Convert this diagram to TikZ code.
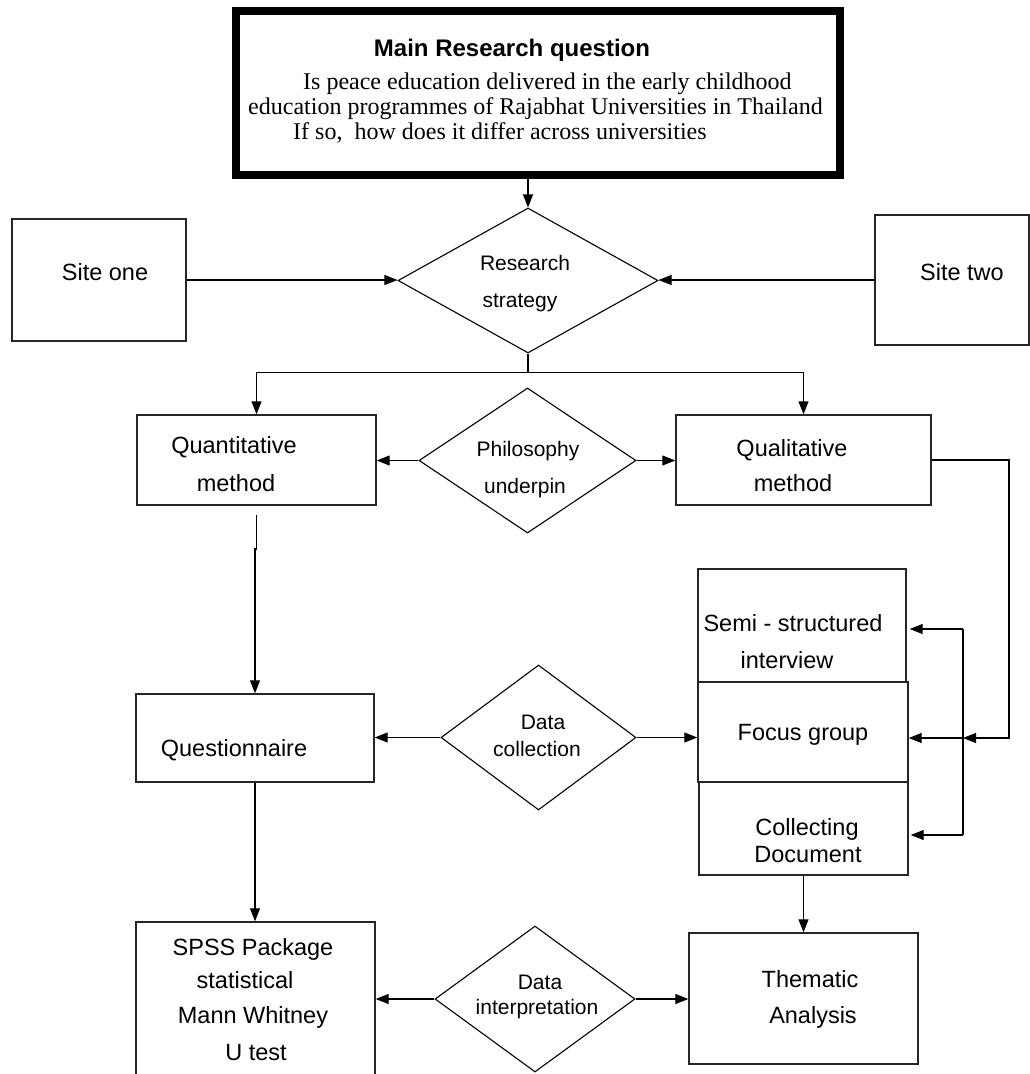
\documentclass[tikz,border=0pt]{standalone}
\usepackage{fontspec}
\setmainfont{Liberation Serif}
\setsansfont{Liberation Sans}
\usetikzlibrary{arrows.meta,shapes.geometric}
\begin{document}
\begin{tikzpicture}[x=1pt,y=-1pt,
  arr/.style={-{Triangle[length=13pt,width=10pt]}, line width=1.1pt, draw=black},
  conn/.style={line width=1.1pt, draw=black},
  box/.style={draw=black!85, line width=1.4pt, rectangle, inner sep=0pt},
  dia/.style={draw=black, line width=1.1pt, diamond, inner sep=0pt, aspect=1},
  bt/.style={font=\sffamily\fontsize{23.5}{28}\selectfont, anchor=base, inner sep=0pt},
  dt/.style={font=\sffamily\fontsize{21}{25}\selectfont, anchor=base, inner sep=0pt},
  tt/.style={font=\rmfamily\fontsize{24}{28}\selectfont, anchor=base west, inner sep=0pt},
]
\useasboundingbox (0,0) rectangle (1030,1074);

% main question box
\node[draw=black, line width=8pt, rectangle, inner sep=0pt, minimum width=604pt, minimum height=164pt] (main) at (538,93) {};
\node[font=\sffamily\bfseries\fontsize{24}{28}\selectfont, anchor=base, inner sep=0pt] (mt) at (512,56) {Main Research question};
\node[tt] (l1) at (303,89) {Is peace education delivered in the early childhood};
\node[tt] (l2) at (248,114) {education programmes of Rajabhat Universities in Thailand};
\node[tt] (l3) at (293,139) {If so,\ \ how does it differ across universities};

% boxes
\node[box, minimum width=174pt, minimum height=122pt] (site1) at (99,280) {};
\node[box, minimum width=154pt, minimum height=130pt] (site2) at (952,280) {};
\node[box, minimum width=239pt, minimum height=90pt] (quant) at (256.5,460) {};
\node[box, minimum width=255pt, minimum height=90pt] (qual) at (803.5,460) {};
\node[box, minimum width=238pt, minimum height=88pt] (quest) at (255,738) {};
\node[box, minimum width=208pt, minimum height=113pt] (semi) at (802,625.5) {};
\node[box, minimum width=210pt, minimum height=100pt] (focus) at (803,732) {};
\node[box, minimum width=209pt, minimum height=93pt] (collect) at (803.5,828.5) {};
\node[box, minimum width=229pt, minimum height=131pt] (them) at (803.5,998.5) {};
\node[box, minimum width=239pt, minimum height=170pt] (spss) at (255.5,1007) {};

% diamonds
\node[dia, minimum width=260pt, minimum height=145pt] (rs) at (528,280.5) {};
\node[dia, minimum width=217pt, minimum height=145pt] (phil) at (527.5,460.5) {};
\node[dia, minimum width=195pt, minimum height=145pt] (dcol) at (538.5,737.5) {};
\node[dia, minimum width=200pt, minimum height=146pt] (dint) at (535,999) {};

% box texts
\node[bt] (t1) at (105,280.5) {Site one};
\node[bt] (t2) at (962,280.5) {Site two};
\node[bt] (t3a) at (234,453.5) {Quantitative};
\node[bt] (t3b) at (236,491.5) {method};
\node[bt] (t4a) at (792,456.5) {Qualitative};
\node[bt] (t4b) at (793,491.5) {method};
\node[bt] (t5) at (234,756.5) {Questionnaire};
\node[bt] (t6a) at (793,631.5) {Semi - structured};
\node[bt] (t6b) at (787,668.5) {interview};
\node[bt] (t7) at (803,740.5) {Focus group};
\node[bt] (t8a) at (807,835.5) {Collecting};
\node[bt] (t8b) at (808,862.5) {Document};
\node[bt] (t9a) at (810,987.5) {Thematic};
\node[bt] (t9b) at (813,1023.5) {Analysis};
\node[bt] (t10a) at (253,955.5) {SPSS Package};
\node[bt] (t10b) at (245,988.5) {statistical};
\node[bt] (t10c) at (253,1023.5) {Mann Whitney};
\node[bt] (t10d) at (256,1060.5) {U test};

% diamond texts
\node[dt] (d1a) at (525,270.5) {Research};
\node[dt] (d1b) at (520,307.5) {strategy};
\node[dt] (d2a) at (528,456.5) {Philosophy};
\node[dt] (d2b) at (525,493.5) {underpin};
\node[dt] (d3a) at (543,729.5) {Data};
\node[dt] (d3b) at (537,756.5) {collection};
\node[dt] (d4a) at (540,989.5) {Data};
\node[dt] (d4b) at (537,1014.5) {interpretation};

% connectors
\draw[arr] (rs.north |- main.south) -- (rs.north);
\draw[arr] (site1.east) -- (site1.east -| rs.west);
\draw[arr] (site2.west) -- (site2.west -| rs.east);
\draw[conn] (rs.south) -- ++(0,19) coordinate (br);
\draw[arr] (br) -| (quant.north);
\draw[arr] (br) -| (qual.north);
\draw[arr] (phil.west) -- (phil.west -| quant.east);
\draw[arr] (phil.east) -- (phil.east -| qual.west);
\coordinate (jog) at (256.5,549);
\draw[arr, shorten <=9pt] (quant.south) -- (jog) -- ++(-1.5,0) -- (jog -| quest.north) -- (quest.north);

\coordinate (qr) at (1009,738);
\coordinate (bkt) at (963,629);
\coordinate (bkm) at (963,738);
\coordinate (bkb) at (963,835);
\draw[arr] (qual.east) -| (qr) -- (bkm);
\draw[conn] (bkt) -- (bkb);
\draw[arr, shorten >=3pt] (bkt) -- (bkt -| semi.east);
\draw[arr] (bkm) -- (bkm -| focus.east);
\draw[arr, shorten >=2pt] (bkb) -- (bkb -| collect.east);

\draw[arr] (dcol.west) -- (dcol.west -| quest.east);
\draw[arr] (dcol.east) -- (dcol.east -| focus.west);
\draw[arr] (quest.south) -- (quest.south |- spss.north);
\draw[arr] (collect.south) -- (collect.south |- them.north);
\draw[arr] (dint.west) -- (dint.west -| spss.east);
\draw[arr] (dint.east) -- (dint.east -| them.west);
\end{tikzpicture}
\end{document}
